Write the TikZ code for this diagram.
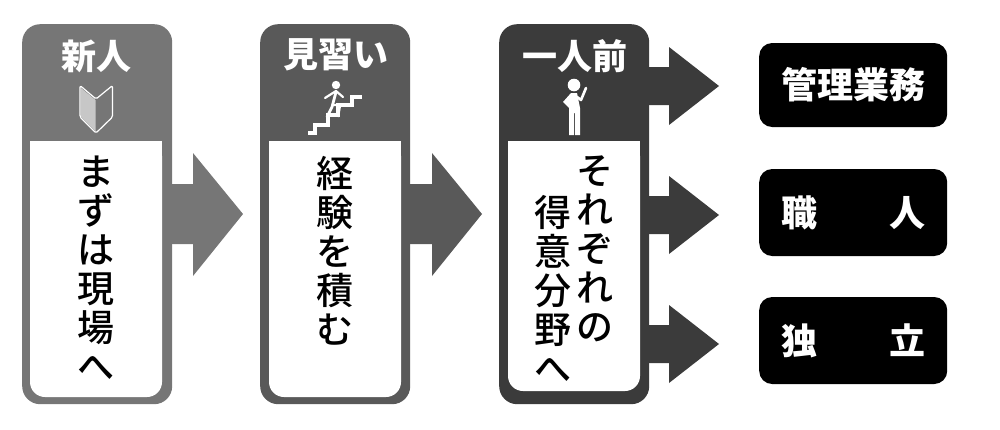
\documentclass[tikz,border=0pt]{standalone}
\usepackage{fontspec}
\setmainfont{Noto Sans CJK JP}
\newfontfamily\bodyfont{Noto Sans CJK JP Medium}
\usetikzlibrary{positioning}
\definecolor{newgray}{HTML}{767676}
\definecolor{midgray}{HTML}{595959}
\definecolor{fullgray}{HTML}{3B3B3B}
% white panel: round at the bottom, square at the top
\newcommand{\bodybox}[3]{
  \fill[white,rounded corners=15pt] (#1,141) rectangle (#2,#3);
  \fill[white] (#1,141) rectangle (#2,175);
}
\begin{document}
\begin{tikzpicture}[x=1pt,y=-1pt,
  stage/.style={rectangle,rounded corners=18pt,minimum width=150pt,minimum height=380pt,anchor=north west,inner sep=0pt},
  title/.style={text=white,font=\fontsize{35}{35}\selectfont\bfseries,inner sep=0pt},
  goal/.style={rectangle,rounded corners=13pt,fill=black,text=white,minimum width=188pt,anchor=west,font=\fontsize{36}{36}\selectfont\bfseries,inner sep=0pt},
  tall/.style={font=\fontsize{37}{39}\selectfont\bodyfont,align=center,inner sep=0pt,anchor=north},
]
  \useasboundingbox (0,0) rectangle (1000,429);
  % Arrows
  \fill[newgray] (165,184) -- (193,184) -- (193,153) -- (243,214) -- (193,276) -- (193,244) -- (165,244) -- cycle;
  \fill[midgray] (404,184) -- (432,184) -- (432,153) -- (482,214) -- (432,276) -- (432,244) -- (404,244) -- cycle;
  \foreach \y in {86,215,344}{
    \fill[fullgray] (642,\y-19) -- (669,\y-19) -- (669,\y-39) -- (719,\y) -- (669,\y+39) -- (669,\y+19) -- (642,\y+19) -- cycle;
  }
  % Stages
  \node[stage,fill=newgray] (s1) at (22,24) {};
  \node[stage,fill=midgray] (s2) at (260,24) {};
  \node[stage,fill=fullgray] (s3) at (499,24) {};
  \bodybox{30}{162}{397}
  \bodybox{269}{401}{397}
  \bodybox{508}{640}{391}
  % Titles
  \node[title] (t1) at (96.5,56) {新人};
  \node[title] (t2) at (335.5,55) {見習い};
  \node[title] (t3) at (574.5,56) {一人前};
  % Icons
  \draw[white,line width=1.2pt,line join=round,rounded corners=1.5pt] (80,85.5) -- (96,99) -- (112.5,85.5) -- (112.5,117) -- (96,133) -- (80,117) -- cycle;
  \fill[white!78!black] (81,88) -- (95.5,100) -- (95.5,131) -- (81,117) -- cycle;
  \fill[white] (336,85) circle (4.2pt);
  \draw[white,line width=2.8pt,line cap=round,line join=round] (336,92) -- (332,107) -- (327,117);
  \draw[white,line width=2.2pt,line cap=round,line join=round] (325,98) -- (336,91) -- (343,97);
  \draw[white,line width=2.4pt,line join=round] (332,105) -- (340,105) -- (338,117);
  \draw[white,line width=3.5pt] (308,133) -- (315,133) -- (315,125) -- (328,125) -- (328,115) -- (338,115) -- (338,105) -- (352,105) -- (352,97) -- (362,97);
  \fill[white] (574,85) circle (6.3pt);
  \fill[white] (571,93) -- (577,93) -- (580,108) -- (580,135) -- (575,135) -- (575,113) -- (574,113) -- (574,135) -- (569,135) -- (569,108) -- (563,102) -- cycle;
  \draw[white,line width=2.6pt,line cap=round,line join=round] (577,97) -- (581,100) -- (586,88);
  % Body texts
  \node[tall] (b1) at (96,156) {ま\\ず\\は\\現\\場\\へ};
  \node[tall] (b2) at (335,156) {経\\験\\を\\積\\む};
  \node[tall] (b3a) at (595,156) {そ\\れ\\ぞ\\れ\\の};
  \node[tall] (b3b) at (553,195) {得\\意\\分\\野\\へ};
  % Goals
  \node[goal,minimum height=84pt] (g1) at (759,85) {管理業務\hspace{3pt}};
  \node[goal,minimum height=87pt] (g2) at (759,212.5) {職\hspace{72pt}人\hspace{3pt}};
  \node[goal,minimum height=87pt] (g3) at (759,340.5) {独\hspace{72pt}立\hspace{3pt}};
\end{tikzpicture}
\end{document}
